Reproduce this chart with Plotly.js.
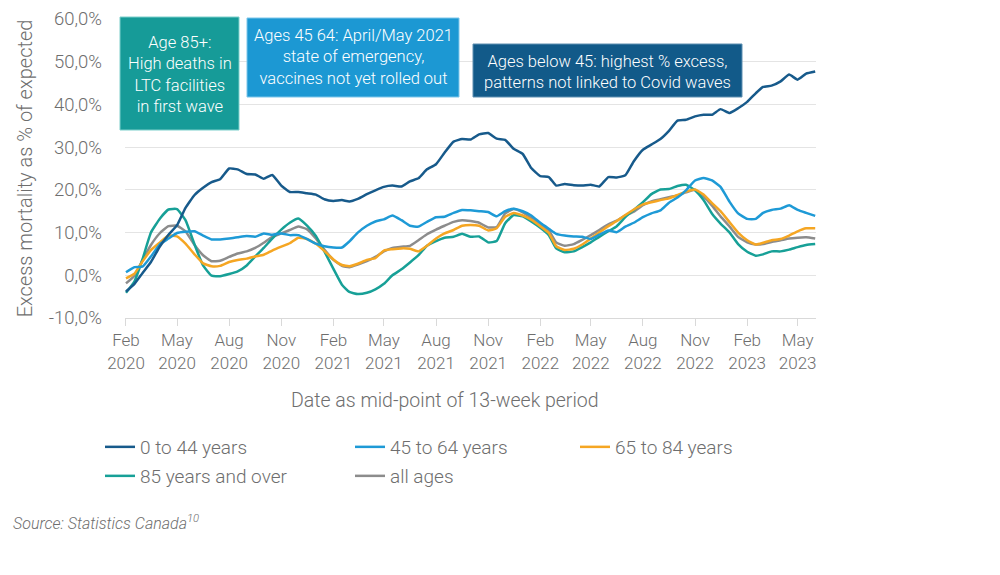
<!DOCTYPE html>
<html>
<head>
<meta charset="utf-8">
<script src="https://cdn.plot.ly/plotly-3.0.1.min.js"></script>
<style>html,body{margin:0;padding:0;background:#fff;}#chart{width:1000px;height:575px;}</style>
</head>
<body>
<div id="chart"></div>
<script>
// Mid-point dates of the 13-week periods (half-month sampling)
const dates = [
 "2020-02-01","2020-02-16","2020-03-01","2020-03-16","2020-04-01","2020-04-16","2020-05-01","2020-05-16","2020-06-01","2020-06-16","2020-07-01","2020-07-16","2020-08-01","2020-08-16","2020-09-01","2020-09-16","2020-10-01","2020-10-16","2020-11-01","2020-11-16","2020-12-01","2020-12-16",
 "2021-01-01","2021-01-16","2021-02-01","2021-02-16","2021-03-01","2021-03-16","2021-04-01","2021-04-16","2021-05-01","2021-05-16","2021-06-01","2021-06-16","2021-07-01","2021-07-16","2021-08-01","2021-08-16","2021-09-01","2021-09-16","2021-10-01","2021-10-16","2021-11-01","2021-11-16","2021-12-01","2021-12-16",
 "2022-01-01","2022-01-16","2022-02-01","2022-02-16","2022-03-01","2022-03-16","2022-04-01","2022-04-16","2022-05-01","2022-05-16","2022-06-01","2022-06-16","2022-07-01","2022-07-16","2022-08-01","2022-08-16","2022-09-01","2022-09-16","2022-10-01","2022-10-16","2022-11-01","2022-11-16","2022-12-01","2022-12-16",
 "2023-01-01","2023-01-16","2023-02-01","2023-02-16","2023-03-01","2023-03-16","2023-04-01","2023-04-16","2023-05-01","2023-05-16","2023-06-01"
];

const age0to44 = [-3.8,-2.0,0.5,3.1,6.8,9.5,11.7,15.8,18.8,20.5,21.8,22.5,25.0,24.8,23.7,23.6,22.6,23.5,21.0,19.5,19.5,19.2,18.9,17.8,17.4,17.6,17.3,17.9,19.0,19.9,20.7,21.0,20.8,22.0,22.7,24.8,26.0,28.7,31.3,31.9,31.8,33.0,33.3,32.0,31.7,29.6,28.4,25.1,23.2,23.0,21.0,21.4,21.1,21.0,21.2,20.8,23.0,22.9,23.4,26.7,29.4,30.6,31.9,33.8,36.2,36.4,37.2,37.6,37.6,38.9,38.0,39.1,40.6,42.6,44.1,44.4,45.4,47.0,45.8,47.2,47.7];

const age45to64 = [0.7,1.9,2.0,4.4,7.3,8.6,9.9,10.2,10.3,9.3,8.4,8.4,8.6,8.9,9.2,9.0,9.8,9.5,9.8,9.4,9.4,8.5,7.4,6.8,6.5,6.5,7.9,10.0,11.6,12.6,13.1,14.0,12.9,11.6,11.4,12.5,13.6,13.7,14.6,15.3,15.2,15.0,14.8,13.8,15.0,15.6,15.0,14.0,12.3,10.9,9.7,9.3,9.1,9.0,8.5,9.5,10.5,10.1,11.4,12.3,13.6,14.5,15.2,17.0,18.2,19.9,22.2,22.8,22.2,20.7,17.2,14.5,13.2,13.2,14.6,15.3,15.6,16.4,15.3,14.6,13.9];

const age65to84 = [-0.7,0.4,3.2,5.9,7.7,9.3,9.1,7.4,4.9,2.8,2.1,2.2,3.1,3.6,3.9,4.4,4.8,5.8,6.7,7.5,8.8,8.5,7.4,5.7,3.7,2.4,2.1,2.7,3.6,4.0,5.8,6.1,6.3,6.2,5.6,6.9,8.6,9.8,10.6,11.6,11.8,11.6,10.5,11.0,13.7,14.6,14.0,13.0,11.5,9.9,6.8,5.9,6.2,7.2,8.6,10.0,11.5,12.7,14.1,15.4,16.6,17.1,17.6,18.0,18.8,19.6,20.1,18.9,16.9,15.0,12.4,10.0,8.2,7.2,7.6,8.2,8.5,9.3,10.3,11.0,11.0];

const age85plus = [-4.1,-1.4,3.7,10.0,13.3,15.4,15.5,12.9,7.2,2.3,-0.1,-0.2,0.3,0.9,2.3,4.4,6.4,8.6,10.7,12.3,13.3,11.7,9.2,5.6,1.5,-2.2,-3.9,-4.4,-4.1,-3.3,-2.0,0.0,1.4,3.0,4.7,6.9,8.0,8.8,9.0,9.7,9.0,9.1,7.7,8.0,12.2,14.1,13.8,12.6,11.1,9.4,6.3,5.4,5.6,6.6,7.7,9.0,10.3,11.5,13.6,15.3,17.1,19.0,20.1,20.2,20.9,21.2,19.9,17.6,14.4,12.1,10.0,7.3,5.5,4.6,4.9,5.6,5.6,6.0,6.6,7.1,7.3];

const allAges = [-1.9,-0.1,3.5,7.1,9.9,11.5,11.6,10.3,7.1,4.7,3.3,3.4,4.3,5.1,5.6,6.4,7.6,9.0,9.8,10.6,11.4,10.8,8.6,6.0,3.6,2.2,1.9,2.5,3.3,4.3,5.6,6.4,6.7,6.9,8.2,9.6,10.7,11.6,12.5,12.9,12.7,12.3,11.2,11.3,14.5,15.5,14.7,13.4,11.9,10.5,7.7,6.9,7.3,8.3,9.4,10.6,11.9,12.8,14.0,14.9,16.4,17.3,17.8,18.3,18.7,19.4,20.0,18.5,16.3,13.8,11.4,9.0,7.7,7.2,7.3,7.8,8.2,8.6,8.8,8.9,8.6];

const seriesNames = ["0 to 44 years","45 to 64 years","65 to 84 years","85 years and over","all ages"];

const xTickVals = ["2020-02-01","2020-05-01","2020-08-01","2020-11-01","2021-02-01","2021-05-01","2021-08-01","2021-11-01","2022-02-01","2022-05-01","2022-08-01","2022-11-01","2023-02-01","2023-05-01"];
const xTickText = ["Feb<br>2020","May<br>2020","Aug<br>2020","Nov<br>2020","Feb<br>2021","May<br>2021","Aug<br>2021","Nov<br>2021","Feb<br>2022","May<br>2022","Aug<br>2022","Nov<br>2022","Feb<br>2023","May<br>2023"];
const yTickVals = [-10,0,10,20,30,40,50,60];
const yTickText = ["-10,0%","0,0%","10,0%","20,0%","30,0%","40,0%","50,0%","60,0%"];

const noteTeal = ["Age 85+:","High deaths in","LTC facilities","in first wave"];
const noteBlue = ["Ages 45 64: April/May 2021","state of emergency,","vaccines not yet rolled out"];
const noteDark = ["Ages below 45: highest % excess,","patterns not linked to Covid waves"];

const FONT = "Roboto, 'Open Sans', sans-serif";
const GRAY = "#6e6e6e";
const colors = ["#175a8b","#1e9ad6","#f5a623","#17a097","#8c8c8c"];
const values = [age0to44, age45to64, age65to84, age85plus, allAges];
const legendIds = ["legend","legend2","legend3","legend4","legend5"];
// draw order: put dark blue on top
const order = [4,3,2,1,0];

const traces = order.map(i => ({
  type: "scatter", mode: "lines",
  x: dates, y: values[i], name: seriesNames[i],
  line: {color: colors[i], width: 2.5, shape: "spline", smoothing: 0.4},
  legend: legendIds[i],
  hoverinfo: "skip"
}));

// plot area in px: left 125, right 816, top 19, bottom 318
const L = 125, R = 816, T = 19, B = 318;
const px = x => (x - L) / (R - L);
const py = y => (B - y) / (B - T);

const legendPos = [[100,447],[350,447],[575,447],[100,476],[350,476]];
const layout = {
  width: 1000, height: 575,
  margin: {l: L, r: 1000 - R, t: T, b: 575 - B},
  paper_bgcolor: "#ffffff", plot_bgcolor: "#ffffff",
  font: {family: FONT, color: GRAY, size: 16, weight: 300},
  showlegend: true,
  xaxis: {
    type: "date",
    range: ["2020-01-30 06:00", "2023-06-02 10:00"],
    tickvals: xTickVals, ticktext: xTickText,
    tickfont: {size: 17, color: GRAY, weight: 300},
    showgrid: false, zeroline: false,
    showline: true, linecolor: "#d9d9d9", linewidth: 1,
    ticks: "outside", ticklen: 7, tickcolor: "#d9d9d9", tickwidth: 1
  },
  yaxis: {
    range: [-10, 60],
    tickvals: yTickVals, ticktext: yTickText,
    tickfont: {size: 18.5, color: GRAY, weight: 300},
    showgrid: true, gridcolor: "#e4e4e4", gridwidth: 1,
    zeroline: false, showline: false,
    ticklabelstandoff: 22,
    title: {text: "Excess mortality as % of expected", font: {size: 20, color: GRAY, weight: 300}, standoff: 10}
  },
  shapes: [
    {type: "rect", xref: "paper", yref: "paper", x0: px(120), x1: px(239), y0: py(130), y1: py(17), fillcolor: "#169b98", line: {color: "#7ccfcb", width: 1}},
    {type: "rect", xref: "paper", yref: "paper", x0: px(247), x1: px(459), y0: py(97), y1: py(18), fillcolor: "#1c98d3", line: {color: "#7cc6ea", width: 1}},
    {type: "rect", xref: "paper", yref: "paper", x0: px(473), x1: px(742), y0: py(97), y1: py(44), fillcolor: "#125a89", line: {color: "#5f8fb1", width: 1}}
  ],
  annotations: []
};

const notes = [
  {lines: noteTeal, x: 179.5, y: 74.5},
  {lines: noteBlue, x: 353, y: 56.5},
  {lines: noteDark, x: 607.5, y: 72}
];
notes.forEach(n => layout.annotations.push({
  xref: "paper", yref: "paper", x: px(n.x), y: py(n.y),
  xanchor: "center", yanchor: "middle", showarrow: false, align: "center",
  text: n.lines.join("<br>"), font: {size: 16.5, color: "#ffffff", family: FONT, weight: 300}
}));

layout.annotations.push({
  xref: "paper", yref: "paper", x: px(445), y: py(400), xanchor: "center", yanchor: "middle",
  showarrow: false, text: "Date as mid-point of 13-week period", font: {size: 19.5, color: GRAY, weight: 300}
});
layout.annotations.push({
  xref: "paper", yref: "paper", x: px(11), y: py(522), xanchor: "left", yanchor: "middle",
  showarrow: false, text: "<i>Source: Statistics Canada<sup>10</sup></i>", font: {size: 16, color: GRAY, weight: 300}
});

legendIds.forEach((id, i) => {
  layout[id] = {
    x: px(legendPos[i][0]), y: py(legendPos[i][1]), xanchor: "left", yanchor: "middle",
    orientation: "v", bgcolor: "rgba(0,0,0,0)", borderwidth: 0,
    font: {size: 19, color: GRAY, family: FONT, weight: 300}
  };
});

Plotly.newPlot("chart", traces, layout, {displayModeBar: false, staticPlot: true});
</script>
</body>
</html>
